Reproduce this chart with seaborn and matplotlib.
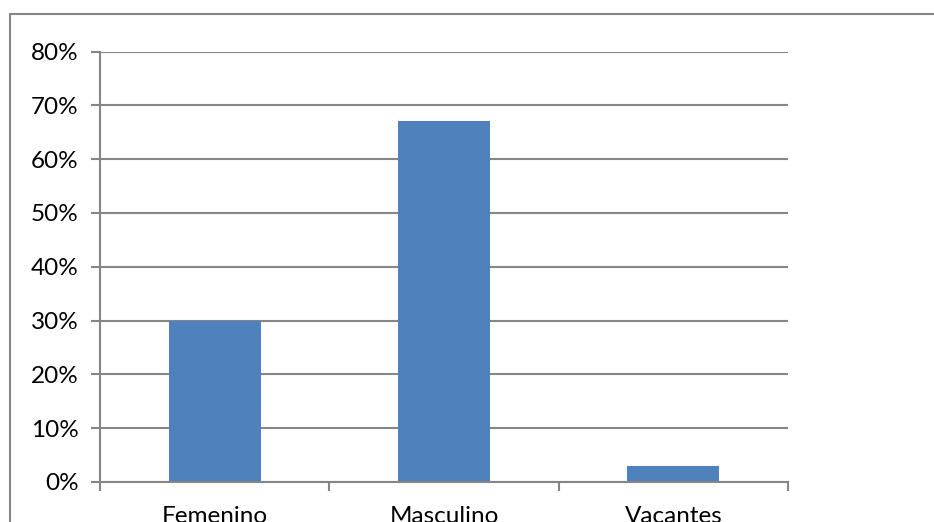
import matplotlib
matplotlib.use("Agg")
import matplotlib.pyplot as plt
import seaborn as sns
import pandas as pd
from matplotlib.lines import Line2D
from matplotlib.ticker import PercentFormatter, FixedLocator

categories = ["Femenino", "Masculino", "Vacantes"]
shares = [0.30, 0.67, 0.03]
yticks = [0.0, 0.1, 0.2, 0.3, 0.4, 0.5, 0.6, 0.7, 0.8]

sns.set_theme(style="white")
plt.rcParams["font.family"] = ["Lato", "DejaVu Sans"]

W, H = 934, 522
fig = plt.figure(figsize=(W / 100, H / 100), dpi=100)
ax = fig.add_axes([100 / W, 40 / H, 688 / W, 430.5 / H])

df = pd.DataFrame({"cat": categories, "val": shares})
sns.barplot(data=df, x="cat", y="val", ax=ax, color="#4F81BD",
            saturation=1, width=0.4, edgecolor="none")

grid = "#868686"
ax.set_ylim(0, 0.8)
ax.set_xlim(-0.5, 2.5)
ax.set_yticks(yticks)
ax.yaxis.set_major_formatter(PercentFormatter(1.0, decimals=0))
ax.set_axisbelow(True)
ax.grid(axis="y", color=grid, linewidth=1.5)
ax.set_xlabel("")
ax.set_ylabel("")

for side in ["top", "right"]:
    ax.spines[side].set_visible(False)
for side in ["left", "bottom"]:
    ax.spines[side].set_color(grid)
    ax.spines[side].set_linewidth(1.5)

ax.tick_params(axis="y", which="major", left=True, length=6.5, width=1.5,
               color=grid, pad=9, labelsize=17.5, labelcolor="black")
# category labels sit under the bars, ticks mark the category boundaries
ax.tick_params(axis="x", which="major", bottom=False, pad=11,
               labelsize=17.5, labelcolor="black")
ax.xaxis.set_minor_locator(FixedLocator([-0.5, 0.5, 1.5, 2.5]))
ax.tick_params(axis="x", which="minor", bottom=True, length=6.5, width=1.5,
               color=grid)

# chart frame
fig.add_artist(Line2D([9.5 / W, 9.5 / W], [0, 1 - 13.5 / H],
                      transform=fig.transFigure, color=grid, linewidth=1.5))
fig.add_artist(Line2D([9.5 / W, 1], [1 - 13.5 / H, 1 - 13.5 / H],
                      transform=fig.transFigure, color=grid, linewidth=1.5))

fig.savefig("out.png", dpi=100, facecolor="white")
